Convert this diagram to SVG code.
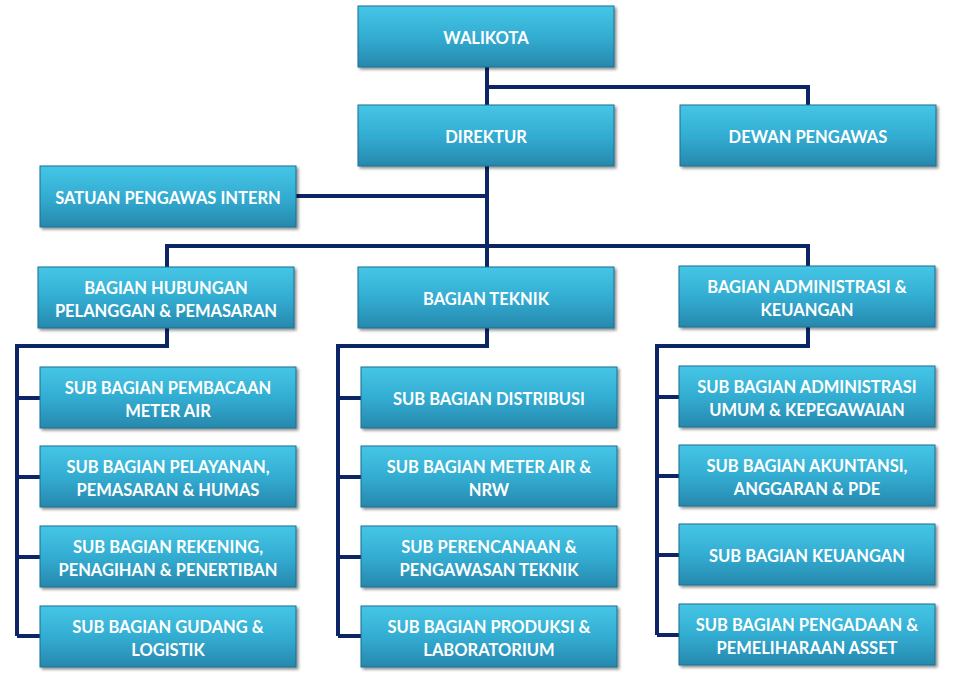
<svg xmlns="http://www.w3.org/2000/svg" width="958" height="676" viewBox="0 0 958 676">
<defs>
<linearGradient id="g" x1="0" y1="0" x2="0" y2="1">
<stop offset="0" stop-color="#45c6e6"/>
<stop offset="0.5" stop-color="#33add2"/>
<stop offset="1" stop-color="#2788ad"/>
</linearGradient>
<filter id="sh" x="-5%" y="-10%" width="112%" height="130%">
<feGaussianBlur in="SourceAlpha" stdDeviation="1.5"/>
<feOffset dx="2" dy="2" result="b"/>
<feComponentTransfer><feFuncA type="linear" slope="0.45"/></feComponentTransfer>
<feMerge><feMergeNode/><feMergeNode in="SourceGraphic"/></feMerge>
</filter>
</defs>
<style>
.box{fill:url(#g);stroke:#1d6f8f;stroke-width:1;filter:url(#sh)}
.t{font-family:Lato,"Open Sans","Liberation Sans",sans-serif;font-weight:bold;font-size:16.5px;fill:#ffffff;text-anchor:middle}
.c{fill:none;stroke:#0c2567;stroke-width:4;stroke-linejoin:miter}
</style>
<rect width="958" height="676" fill="#ffffff"/>
<g id="connectors">
<path class="c" d="M487 67V105M487 87H808V105"/>
<path class="c" d="M487 166V267M296 196H487M167 267V246H808V266"/>
<path class="c" d="M167 328V346H17V636M17 398H40M17 477H40M17 557H40M17 636H40"/>
<path class="c" d="M487 328V346H338V636M338 398H361M338 477H361M338 557H361M338 636H361"/>
<path class="c" d="M808 327V346H657V635M657 397H679M657 476H679M657 555H679M657 635H679"/>
</g>
<g id="walikota"><rect class="box" x="358" y="6" width="256" height="61"/><text class="t" x="486" y="44">WALIKOTA</text></g>
<g id="direktur"><rect class="box" x="358" y="105" width="256" height="61"/><text class="t" x="486" y="143">DIREKTUR</text></g>
<g id="dewan"><rect class="box" x="680" y="105" width="256" height="61"/><text class="t" x="808" y="143">DEWAN PENGAWAS</text></g>
<g id="spi"><rect class="box" x="40" y="166" width="256" height="61"/><text class="t" x="168" y="204">SATUAN PENGAWAS INTERN</text></g>
<g id="bagian-hubungan"><rect class="box" x="38" y="267" width="256" height="61"/><text class="t" x="166" y="294">BAGIAN HUBUNGAN</text><text class="t" x="166" y="317">PELANGGAN &amp; PEMASARAN</text></g>
<g id="bagian-teknik"><rect class="box" x="358" y="267" width="256" height="61"/><text class="t" x="486" y="305">BAGIAN TEKNIK</text></g>
<g id="bagian-admin"><rect class="box" x="679" y="266" width="256" height="61"/><text class="t" x="807" y="293">BAGIAN ADMINISTRASI &amp;</text><text class="t" x="807" y="316">KEUANGAN</text></g>
<g id="sb-pembacaan"><rect class="box" x="40" y="367" width="256" height="61"/><text class="t" x="168" y="394">SUB BAGIAN PEMBACAAN</text><text class="t" x="168" y="417">METER AIR</text></g>
<g id="sb-pelayanan"><rect class="box" x="40" y="446" width="256" height="61"/><text class="t" x="168" y="473">SUB BAGIAN PELAYANAN,</text><text class="t" x="168" y="496">PEMASARAN &amp; HUMAS</text></g>
<g id="sb-rekening"><rect class="box" x="40" y="526" width="256" height="61"/><text class="t" x="168" y="553">SUB BAGIAN REKENING,</text><text class="t" x="168" y="576">PENAGIHAN &amp; PENERTIBAN</text></g>
<g id="sb-gudang"><rect class="box" x="40" y="606" width="256" height="61"/><text class="t" x="168" y="633">SUB BAGIAN GUDANG &amp;</text><text class="t" x="168" y="656">LOGISTIK</text></g>
<g id="sb-distribusi"><rect class="box" x="361" y="367" width="256" height="61"/><text class="t" x="489" y="405">SUB BAGIAN DISTRIBUSI</text></g>
<g id="sb-meter-nrw"><rect class="box" x="361" y="446" width="256" height="61"/><text class="t" x="489" y="473">SUB BAGIAN METER AIR &amp;</text><text class="t" x="489" y="496">NRW</text></g>
<g id="sb-perencanaan"><rect class="box" x="361" y="526" width="256" height="61"/><text class="t" x="489" y="553">SUB PERENCANAAN &amp;</text><text class="t" x="489" y="576">PENGAWASAN TEKNIK</text></g>
<g id="sb-produksi"><rect class="box" x="361" y="606" width="256" height="61"/><text class="t" x="489" y="633">SUB BAGIAN PRODUKSI &amp;</text><text class="t" x="489" y="656">LABORATORIUM</text></g>
<g id="sb-adm-umum"><rect class="box" x="679" y="366" width="256" height="61"/><text class="t" x="807" y="393">SUB BAGIAN ADMINISTRASI</text><text class="t" x="807" y="416">UMUM &amp; KEPEGAWAIAN</text></g>
<g id="sb-akuntansi"><rect class="box" x="679" y="445" width="256" height="61"/><text class="t" x="807" y="472">SUB BAGIAN AKUNTANSI,</text><text class="t" x="807" y="495">ANGGARAN &amp; PDE</text></g>
<g id="sb-keuangan"><rect class="box" x="679" y="524" width="256" height="61"/><text class="t" x="807" y="562">SUB BAGIAN KEUANGAN</text></g>
<g id="sb-pengadaan"><rect class="box" x="679" y="604" width="256" height="61"/><text class="t" x="807" y="631">SUB BAGIAN PENGADAAN &amp;</text><text class="t" x="807" y="654">PEMELIHARAAN ASSET</text></g>
</svg>
